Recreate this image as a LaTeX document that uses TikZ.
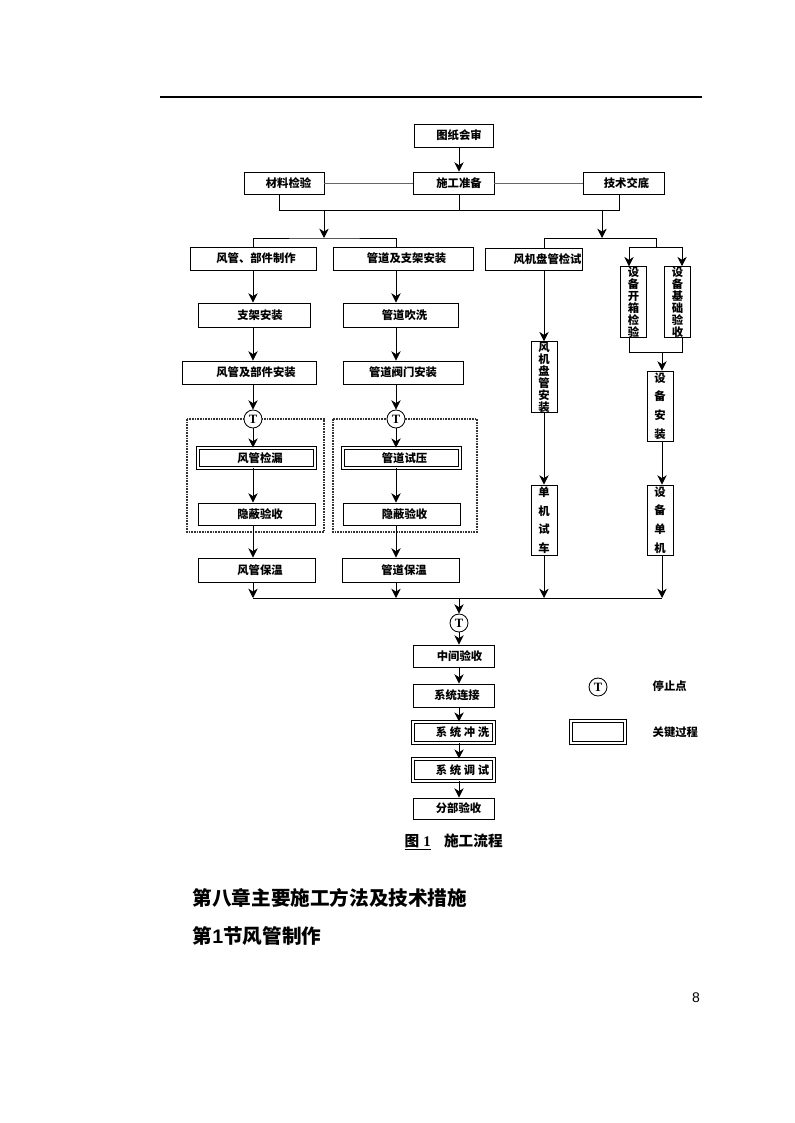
\documentclass[tikz,border=0pt]{standalone}
\usepackage{fontspec}
\setmainfont{Noto Sans CJK SC}
\newfontfamily\arialf{Liberation Sans}
\newfontfamily\timesf{Liberation Serif}
\usetikzlibrary{arrows.meta,calc}
\newlength{\pxu}
\setlength{\pxu}{0.75pt}

\begin{document}
\begin{tikzpicture}[x=0.75pt, y=-0.75pt,
    bx/.style 2 args={draw, line width=0.65pt, minimum width=#1*\pxu, minimum height=#2*\pxu,
        inner sep=0pt, font=\fontsize{8.5pt}{10pt}\selectfont\bfseries},
    vbx/.style={draw, line width=0.65pt, minimum width=26*\pxu, minimum height=70*\pxu,
        inner sep=0pt, align=center, font=\fontsize{8.5pt}{#1}\selectfont\bfseries},
    dbl/.style={double, double distance=1.4pt, line width=0.45pt},
    lpad/.style={execute at begin node={\hspace*{#1\pxu}}},
    stopc/.style={circle, draw, line width=0.65pt, fill=white, minimum size=18*\pxu, inner sep=0pt,
        font=\timesf\bfseries\fontsize{9.5pt}{9.5pt}\selectfont},
    ln/.style={line width=0.65pt},
    gln/.style={line width=0.65pt, black!60},
    arr/.style={line width=0.65pt, -{Stealth[length=7pt, width=7pt, inset=2.2pt]}},
    dotframe/.style={line width=1.2pt, black!80, dash pattern=on 1.3pt off 0.7pt},
    lbl/.style={font=\fontsize{8.5pt}{10pt}\selectfont\bfseries},
]
    \useasboundingbox (0,0) rectangle (794,1123);

    % Header rule
    \draw[line width=0.8pt] (160,97) -- (702,97);

    % Preparation
    \node[bx={79}{23}, lpad=11] (tzhs) at (453.5,135.5) {图纸会审};
    \node[bx={81}{22}, lpad=11] (sgzb) at (453.5,183) {施工准备};
    \node[bx={80}{22}, lpad=9] (cljy) at (284,183) {材料检验};
    \node[bx={81}{22}, lpad=6] (jsjd) at (623.5,183) {技术交底};

    % Column lines
    \coordinate (mx) at (459,0);
    \coordinate (c1) at (253,0);
    \coordinate (c2) at (396,0);
    \coordinate (c3) at (544,0);
    \coordinate (c4) at (662,0);
    \coordinate (k1) at (629,0);
    \coordinate (k2) at (682,0);

    % Branch boxes
    \node[bx={126}{23}, lpad=6] (fgzz) at (253,258.5) {风管、部件制作};
    \node[bx={140}{23}, lpad=7] (gdzj) at (403,258.5) {管道及支架安装};
    \node[bx={97}{22}, lpad=28] (fjjs) at (533.5,259) {风机盘管检试};
    \node[vbx=9pt] (kxjy) at (633.5,302) {设\\备\\开\\箱\\检\\验};
    \node[vbx=9pt] (jcys) at (677.5,302) {设\\备\\基\\础\\验\\收};

    \node[bx={112}{24}, lpad=12] (zjaz) at (254,315) {支架安装};
    \node[bx={115}{24}, lpad=8] (gdcx) at (400.5,315) {管道吹洗};
    \node[bx={134}{23}, lpad=14] (fgaz) at (249,372.5) {风管及部件安装};
    \node[bx={120}{23}] (gdfm) at (403,372.5) {管道阀门安装};
    \node[vbx=9pt] (fjaz) at (544,377) {风\\机\\盘\\管\\安\\装};
    \node[vbx=13.9pt] (sbaz) at (660,406) {设\\备\\安\\装};

    % Test frames
    \draw[dotframe] (187,419) rectangle (324,532);
    \draw[dotframe] (333,419) rectangle (477,532);
    \node[stopc] (t1) at (253,419) {T};
    \node[stopc] (t2) at (396,419) {T};

    \node[bx={117}{20}, dbl, lpad=7] (fgjl) at (256.5,458) {风管检漏};
    \node[bx={117}{20}, dbl, lpad=6] (gdsy) at (401.5,458) {管道试压};
    \node[bx={117}{22}, lpad=7] (ybl) at (256.5,514) {隐蔽验收};
    \node[bx={117}{22}, lpad=6] (ybr) at (401.5,514) {隐蔽验收};
    \node[bx={117}{24}, lpad=7] (fgbw) at (256.5,570) {风管保温};
    \node[bx={117}{24}, lpad=7] (gdbw) at (400.5,570) {管道保温};
    \node[vbx=13.9pt] (djsc) at (544,520) {单\\机\\试\\车};
    \node[vbx=13.9pt] (sbdj) at (660,520) {设\\备\\单\\机};

    % Final steps
    \node[stopc] (t3) at (459,623) {T};
    \node[bx={81}{22}, lpad=12] (zjys) at (453.5,656) {中间验收};
    \node[bx={81}{23}, lpad=7] (xtlj) at (453.5,695.5) {系统连接};
    \node[bx={81}{21}, dbl, lpad=18] (xtcx) at (453.5,732.5) {系\hspace{2pt}统\hspace{2pt}冲\hspace{2pt}洗};
    \node[bx={81}{22}, dbl, lpad=18] (xtts) at (453.5,770) {系\hspace{2pt}统\hspace{2pt}调\hspace{2pt}试};
    \node[bx={81}{21}, lpad=10] (fbys) at (453.5,808.5) {分部验收};

    % Legend
    \node[stopc] (lgt) at (598,687) {T};
    \node[lbl, anchor=west] (lgtx) at (648,686) {停止点};
    \node[bx={54}{22}, dbl] (lgb) at (598,732) {};
    \node[lbl, anchor=west] (lgbx) at (648,732) {关键过程};

    % Connectors, top
    \draw[arr] (mx |- tzhs.south) -- (mx |- sgzb.north);
    \draw[gln] (cljy.east) -- (sgzb.west);
    \draw[gln] (sgzb.east) -- (jsjd.west);
    \coordinate (ca) at (279,210);
    \coordinate (cb) at (619,210);
    \draw[ln] (cljy.south -| ca) -- (ca) -- (cb) -- (cb |- jsjd.south);
    \draw[ln] (mx |- sgzb.south) -- (mx |- ca);
    \coordinate (la) at (324,238);
    \coordinate (ra) at (602,238);
    \draw[arr] (la |- ca) -- (la);
    \draw[arr] (ra |- ca) -- (ra);
    \draw[ln] (c1 |- fgzz.north) |- (la) -| (c2 |- gdzj.north);
    \coordinate (sp) at (656,247);
    \draw[ln] (c3 |- fjjs.north) |- (sp |- ra) -- (sp);
    \draw[ln] (k1 |- sp) -- (k2 |- sp);
    \draw[arr] (k1 |- sp) -- (k1 |- kxjy.north);
    \draw[arr] (k2 |- sp) -- (k2 |- jcys.north);

    % Connectors, left columns
    \draw[arr] (c1 |- fgzz.south) -- (c1 |- zjaz.north);
    \draw[arr] (c1 |- zjaz.south) -- (c1 |- fgaz.north);
    \draw[arr] (c1 |- fgaz.south) -- (t1);
    \draw[arr] (t1) -- (c1 |- fgjl.north);
    \draw[arr] (c1 |- fgjl.south) -- (c1 |- ybl.north);
    \draw[arr] (c1 |- ybl.south) -- (c1 |- fgbw.north);
    \draw[arr] (c2 |- gdzj.south) -- (c2 |- gdcx.north);
    \draw[arr] (c2 |- gdcx.south) -- (c2 |- gdfm.north);
    \draw[arr] (c2 |- gdfm.south) -- (t2);
    \draw[arr] (t2) -- (c2 |- gdsy.north);
    \draw[arr] (c2 |- gdsy.south) -- (c2 |- ybr.north);
    \draw[arr] (c2 |- ybr.south) -- (c2 |- gdbw.north);

    % Connectors, right columns
    \draw[arr] (c3 |- fjjs.south) -- (c3 |- fjaz.north);
    \draw[arr] (c3 |- fjaz.south) -- (c3 |- djsc.north);
    \coordinate (kj) at (0,352);
    \draw[ln] (k1 |- kxjy.south) -- (k1 |- kj) -- (k2 |- kj) -- (k2 |- jcys.south);
    \draw[arr] (c4 |- kj) -- (c4 |- sbaz.north);
    \draw[arr] (c4 |- sbaz.south) -- (c4 |- sbdj.north);

    % Collector and main column
    \coordinate (bus) at (0,598);
    \draw[ln] (c1 |- bus) -- (c4 |- bus);
    \draw[arr] (c1 |- fgbw.south) -- (c1 |- bus);
    \draw[arr] (c2 |- gdbw.south) -- (c2 |- bus);
    \draw[arr] (c3 |- djsc.south) -- (c3 |- bus);
    \draw[arr] (c4 |- sbdj.south) -- (c4 |- bus);
    \draw[arr] (mx |- bus) -- (t3);
    \draw[arr] (t3) -- (mx |- zjys.north);
    \draw[arr] (mx |- zjys.south) -- (mx |- xtlj.north);
    \draw[arr] (mx |- xtlj.south) -- (mx |- xtcx.north);
    \draw[arr] (mx |- xtcx.south) -- (mx |- xtts.north);
    \draw[arr] (mx |- xtts.south) -- (mx |- fbys.north);

    % Caption and following text
    \node[anchor=west, font=\fontsize{11pt}{12pt}\selectfont\bfseries] (cap) at (400,842)
        {\underline{图\hspace{3pt}{\timesf 1}}\hspace{10pt}施工流程};
    \node[anchor=west, font=\fontsize{14.7pt}{16pt}\selectfont\bfseries] (h1) at (188,898)
        {第八章主要施工方法及技术措施};
    \node[anchor=west, font=\fontsize{14.7pt}{16pt}\selectfont\bfseries] (h2) at (188,936)
        {第{\arialf 1}节风管制作};
    \node[font=\arialf\fontsize{10.5pt}{12pt}\selectfont] (pg) at (696,998) {8};
\end{tikzpicture}
\end{document}
